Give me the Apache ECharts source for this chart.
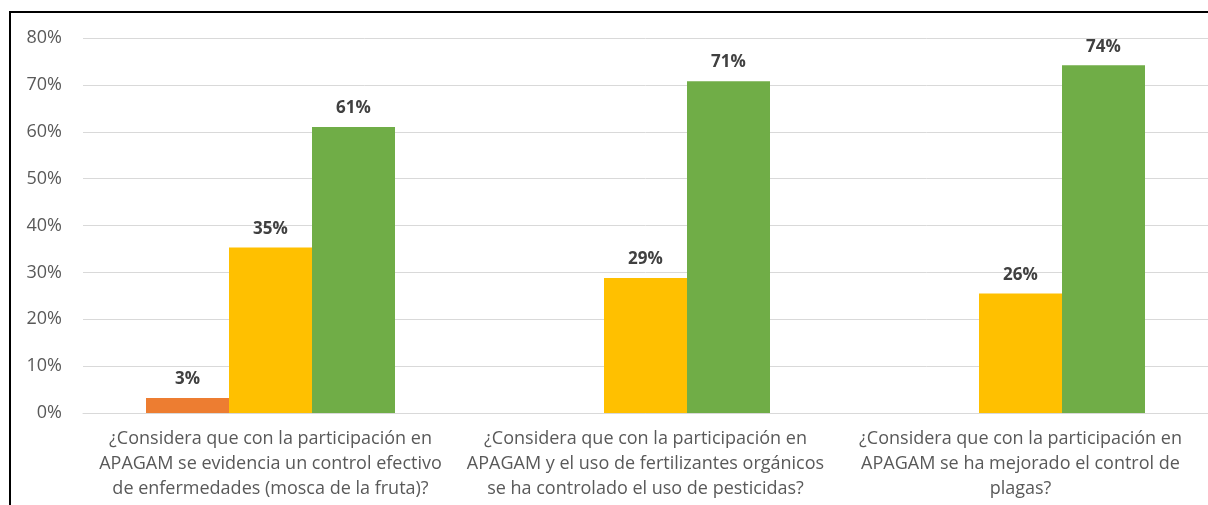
<!DOCTYPE html>
<html>
<head>
<meta charset="utf-8">
<script src="https://cdn.jsdelivr.net/npm/echarts@6/dist/echarts.min.js"></script>
<style>
  html, body { margin: 0; padding: 0; background: #fff; }
  #chart { position: absolute; left: 0; top: 0; width: 1208px; height: 505px; }
  #frame { position: absolute; left: 9px; top: 11px; width: 1210px; height: 500px;
           border-top: 2px solid #000; border-left: 2px solid #000; pointer-events: none; }
</style>
</head>
<body>
<div id="chart"></div>
<div id="frame"></div>
<script>
const categories = [
  "¿Considera que con la participación en\nAPAGAM se evidencia un control efectivo\nde enfermedades (mosca de la fruta)?",
  "¿Considera que con la participación en\nAPAGAM y el uso de fertilizantes orgánicos\nse ha controlado el uso de pesticidas?",
  "¿Considera que con la participación en\nAPAGAM se ha mejorado el control de\nplagas?"
];
const seriesOrange = [3.2, null, null];
const seriesYellow = [35.3, 28.8, 25.5];
const seriesGreen = [61.0, 70.8, 74.2];
const yTicks = { min: 0, max: 80, interval: 10 };

const font = "'Open Sans', sans-serif";
const labelCfg = {
  show: true, position: 'top', distance: 10,
  color: '#404040', fontWeight: 'bold', fontSize: 17, fontFamily: font,
  formatter: p => Math.round(p.value) + '%'
};
function bar(name, data, color) {
  return { name, type: 'bar', data, barWidth: 83, barGap: '0%',
           itemStyle: { color }, label: labelCfg };
}
const chart = echarts.init(document.getElementById('chart'), null, { renderer: 'canvas' });
chart.setOption({
  animation: false,
  grid: { left: 83, right: 0, top: 38, bottom: 92, containLabel: false },
  xAxis: {
    type: 'category', data: categories,
    axisLine: { show: true, lineStyle: { color: '#d9d9d9', width: 1 } },
    axisTick: { show: false },
    axisLabel: { color: '#595959', fontSize: 18, fontFamily: font, lineHeight: 25, margin: 13, interval: 0 }
  },
  yAxis: {
    type: 'value', min: yTicks.min, max: yTicks.max, interval: yTicks.interval,
    axisLine: { show: false }, axisTick: { show: false },
    axisLabel: { color: '#595959', fontSize: 18, fontFamily: font, margin: 21, formatter: '{value}%' },
    splitLine: { lineStyle: { color: '#d9d9d9', width: 1 } }
  },
  series: [
    bar('No', seriesOrange, '#ED7D31'),
    bar('A veces', seriesYellow, '#FFC000'),
    bar('Sí', seriesGreen, '#70AD47')
  ]
});
</script>
</body>
</html>
